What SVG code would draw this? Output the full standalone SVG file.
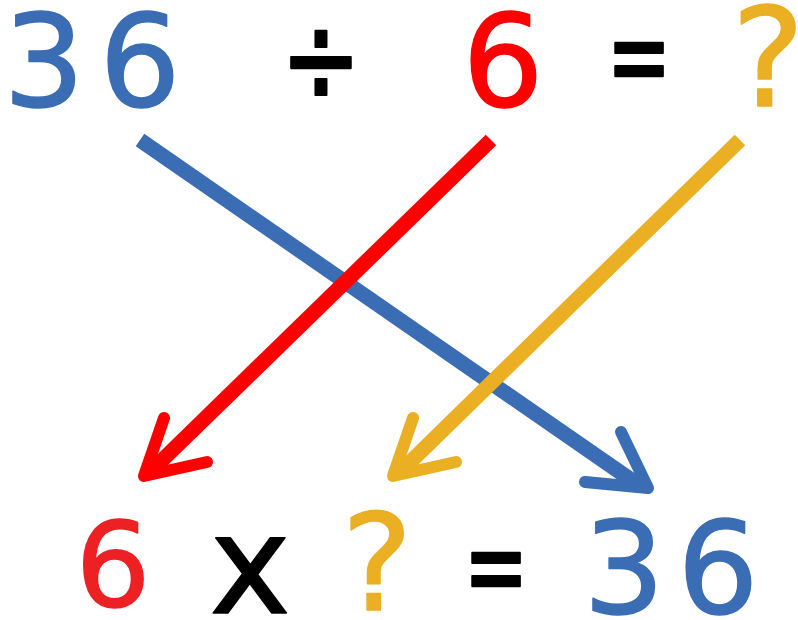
<svg xmlns="http://www.w3.org/2000/svg" width="798" height="620" viewBox="0 0 798 620">
<style>
text{font-family:"DejaVu Sans","Liberation Sans",sans-serif;text-anchor:middle;stroke-linejoin:round;stroke-width:1.5}
.blue{fill:#3B6DB5;stroke:#3B6DB5}
.red{fill:#FF0000;stroke:#FF0000}
.red2{fill:#ED2024;stroke:#ED2024}
.yel{fill:#EAAF22;stroke:#EAAF22}
.blk{fill:#000;stroke:#000}
.shaft{fill:none;stroke-width:15;stroke-linecap:butt}
.head{fill:none;stroke-width:12;stroke-linecap:round;stroke-linejoin:round}
</style>
<rect width="798" height="620" fill="#fff"/>
<g id="top-36">
<text class="blue" x="44" y="106" font-size="128">3</text>
<text class="blue" x="140" y="106" font-size="128">6</text>
</g>
<g id="top-div"><text class="blk" font-size="96" transform="translate(321,105) scale(1,1.4)" x="0" y="0">÷</text></g>
<g id="top-6"><text class="red" x="503" y="106" font-size="128">6</text></g>
<g id="top-eq"><text class="blk" font-size="90" transform="translate(639,96) scale(0.85,1.3)" x="0" y="0" style="stroke-width:2">=</text></g>
<g id="top-q"><text class="yel" x="768" y="106" font-size="138">?</text></g>
<g id="bot-6"><text class="red2" x="113" y="606" font-size="118">6</text></g>
<g id="bot-x"><text class="blk" x="250" y="613" font-size="138">x</text></g>
<g id="bot-q"><text class="yel" x="377" y="610" font-size="134">?</text></g>
<g id="bot-eq"><text class="blk" font-size="90" transform="translate(496,606) scale(0.85,1.3)" x="0" y="0" style="stroke-width:2">=</text></g>
<g id="bot-36">
<text class="blue" x="624" y="613" font-size="128">3</text>
<text class="blue" x="718" y="613" font-size="128">6</text>
</g>
<g id="connectors">
<line class="shaft" x1="140" y1="140" x2="640" y2="486" stroke="#3B6DB5"/>
<polyline class="head" points="621,432 648,488 585,482" stroke="#3B6DB5"/>
<line class="shaft" x1="491" y1="140" x2="150" y2="472" stroke="#FF0000"/>
<polyline class="head" points="164,418 144,476 207,462" stroke="#FF0000"/>
<line class="shaft" x1="740" y1="140" x2="400" y2="472" stroke="#EAAF22"/>
<polyline class="head" points="413,418 393,476 456,462" stroke="#EAAF22"/>
</g>
</svg>
